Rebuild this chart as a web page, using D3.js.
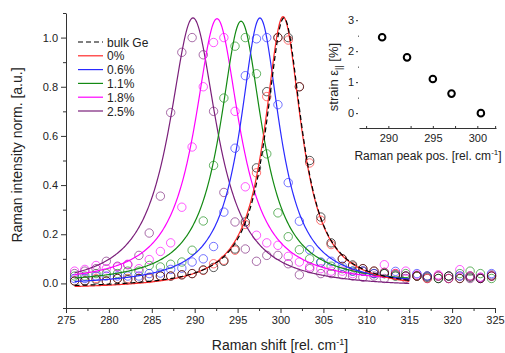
<!DOCTYPE html>
<html>
<head>
<meta charset="utf-8">
<script src="https://cdn.jsdelivr.net/npm/d3@7"></script>
<style>
  body { margin: 0; background: #fff; }
  svg { font-family: "Liberation Sans", Arial, sans-serif; }
  .axis path, .axis line { stroke: #333; }
  .axis text { fill: #222; font-size: 11px; }
</style>
</head>
<body>
<svg id="chart" width="505" height="353"></svg>
<script>
// sample positions of the measured spectra (rel. cm-1)
const shift = [276.0, 277.2, 278.5, 279.7, 281.0, 282.2, 283.5, 284.7, 286.0, 287.2,
  288.5, 289.7, 291.0, 292.2, 293.4, 294.7, 295.9, 297.2, 298.4, 299.7,
  300.9, 302.2, 303.4, 304.7, 305.9, 307.2, 308.4, 309.6, 310.9, 312.1,
  313.4, 314.6, 315.9, 317.1, 318.4, 319.6, 320.9, 322.1, 323.3, 324.6];

const seriesNames = ['bulk Ge', '0%', '0.6%', '1.1%', '1.8%', '2.5%'];
const seriesColors = ['#000000', '#ff2a2a', '#2a2aff', '#138a13', '#ff00ff', '#7a1f7a'];

// measured normalized intensities
const bulkGe = [0.01, 0.01, 0.015, 0.01, 0.02, 0.015, 0.02, 0.025, 0.03, 0.03,
  0.035, 0.04, 0.055, 0.065, 0.09, 0.14, 0.25, 0.47, 0.78, 1.0,
  1.0, 0.80, 0.50, 0.27, 0.165, 0.10, 0.075, 0.06, 0.05, 0.04,
  0.035, 0.03, 0.03, 0.025, 0.02, 0.03, 0.02, 0.025, 0.02, 0.03];
const strain0 = [0.01, 0.01, 0.02, 0.01, 0.02, 0.02, 0.02, 0.02, 0.03, 0.03,
  0.035, 0.04, 0.053, 0.08, 0.094, 0.135, 0.24, 0.45, 0.76, 1.0,
  0.99, 0.80, 0.49, 0.257, 0.158, 0.10, 0.07, 0.06, 0.05, 0.045,
  0.04, 0.03, 0.03, 0.02, 0.03, 0.02, 0.02, 0.03, 0.02, 0.03];
const strain06 = [0.02, 0.02, 0.03, 0.03, 0.03, 0.03, 0.03, 0.04, 0.042, 0.057,
  0.062, 0.087, 0.10, 0.15, 0.29, 0.55, 0.845, 0.995, 1.0, 0.727,
  0.41, 0.253, 0.137, 0.087, 0.09, 0.07, 0.05, 0.05, 0.04, 0.045,
  0.049, 0.03, 0.04, 0.03, 0.03, 0.02, 0.03, 0.03, 0.02, 0.04];
const strain11 = [0.03, 0.03, 0.04, 0.04, 0.04, 0.05, 0.05, 0.073, 0.067, 0.078,
  0.087, 0.135, 0.254, 0.48, 0.754, 0.965, 1.0, 0.853, 0.527, 0.287,
  0.19, 0.137, 0.10, 0.085, 0.07, 0.06, 0.05, 0.05, 0.04, 0.04,
  0.03, 0.04, 0.03, 0.03, 0.02, 0.03, 0.04, 0.05, 0.04, 0.02];
const strain18 = [0.05, 0.057, 0.073, 0.06, 0.067, 0.078, 0.06, 0.097, 0.13, 0.165,
  0.31, 0.555, 0.80, 0.98, 1.0, 0.70, 0.393, 0.196, 0.165, 0.155,
  0.11, 0.087, 0.067, 0.06, 0.05, 0.05, 0.04, 0.05, 0.04, 0.076,
  0.04, 0.05, 0.035, 0.03, 0.035, 0.03, 0.056, 0.03, 0.025, 0.03];
const strain25 = [0.04, 0.05, 0.06, 0.09, 0.07, 0.076, 0.114, 0.205, 0.355, 0.695,
  0.94, 1.0, 0.93, 0.70, 0.37, 0.25, 0.14, 0.09, 0.114, 0.114,
  0.08, 0.035, 0.06, 0.04, 0.04, 0.035, 0.03, 0.025, 0.03, 0.02,
  0.03, 0.02, 0.03, 0.02, 0.03, 0.02, 0.03, 0.02, 0.025, 0.035];
const measured = [bulkGe, strain0, strain06, strain11, strain18, strain25];

// Lorentzian fit parameters: centre, half width, amplitude, offset
const fitCentre = [300.4, 300.3, 297.6, 295.4, 292.6, 289.8];
const fitWidth = [2.55, 2.6, 2.8, 3.0, 3.2, 3.4];
const fitAmp = [1.10, 1.11, 1.09, 1.07, 1.08, 1.10];
const fitOffset = [-0.02, -0.025, -0.01, -0.003, -0.003, -0.02];
const fitRange = [276, 315];

// inset: peak position vs strain
const peakPos = [289.3, 292.1, 295.0, 297.1, 300.4];
const strainVal = [2.45, 1.8, 1.1, 0.63, 0.0];

const svg = d3.select('#chart');

const x = d3.scaleLinear().domain([275, 325]).range([66, 495]);
const y = d3.scaleLinear().domain([-0.1, 1.1]).range([308, 13]);

// axes
svg.append('g').attr('class', 'axis').attr('transform', 'translate(0,308)')
  .call(d3.axisBottom(x).tickValues(d3.range(275, 326, 5)).tickSize(5).tickPadding(3).tickSizeOuter(0));
svg.append('g').attr('class', 'axis').attr('transform', 'translate(0,308)')
  .call(d3.axisBottom(x).tickValues(d3.range(277.5, 325, 5)).tickSize(3).tickFormat('').tickSizeOuter(0))
  .select('.domain').remove();

svg.append('g').attr('class', 'axis').attr('transform', 'translate(66,0)')
  .call(d3.axisLeft(y).tickValues(d3.range(0, 1.01, 0.2)).tickSize(5).tickPadding(3)
    .tickFormat(d3.format('.1f')).tickSizeOuter(0));
svg.append('g').attr('class', 'axis').attr('transform', 'translate(66,0)')
  .call(d3.axisLeft(y).tickValues([-0.1, 0.1, 0.3, 0.5, 0.7, 0.9, 1.1]).tickSize(3).tickFormat('').tickSizeOuter(0))
  .select('.domain').remove();

svg.append('text').attr('x', 280).attr('y', 350).attr('text-anchor', 'middle')
  .attr('font-size', 14).attr('fill', '#222')
  .html('Raman shift [rel. cm<tspan dy="-5" font-size="9">-1</tspan><tspan dy="5">]</tspan>');
svg.append('text').attr('transform', 'translate(22,155) rotate(-90)').attr('text-anchor', 'middle')
  .attr('font-size', 14).attr('fill', '#222').text('Raman intensity norm. [a.u.]');

// measured points
const order = [5, 4, 3, 2, 1, 0];
order.forEach(s => {
  svg.append('g').selectAll('circle').data(measured[s]).join('circle')
    .attr('cx', (d, i) => x(shift[i]))
    .attr('cy', d => y(d))
    .attr('r', 4.2)
    .attr('fill', 'none')
    .attr('stroke', seriesColors[s])
    .attr('stroke-opacity', 0.65)
    .attr('stroke-width', 1);
});

// fitted curves
const fitX = d3.range(fitRange[0], fitRange[1] + 0.001, 0.1);
const line = d3.line().x(d => x(d[0])).y(d => y(d[1]));
order.forEach(s => {
  const pts = fitX.map(v => [v, fitOffset[s] + fitAmp[s] / (1 + Math.pow((v - fitCentre[s]) / fitWidth[s], 2))]);
  svg.append('path').datum(pts).attr('d', line)
    .attr('fill', 'none')
    .attr('stroke', seriesColors[s])
    .attr('stroke-width', 1.2)
    .attr('stroke-dasharray', s === 0 ? '5,3' : null);
});

// legend
const legend = svg.append('g').attr('transform', 'translate(78,42)');
seriesNames.forEach((name, i) => {
  const g = legend.append('g').attr('transform', `translate(0,${i * 13.8})`);
  g.append('line').attr('x1', 0).attr('x2', 25).attr('y1', 0).attr('y2', 0)
    .attr('stroke', seriesColors[i]).attr('stroke-width', 1.2)
    .attr('stroke-dasharray', i === 0 ? '5,3' : null);
  g.append('text').attr('x', 29).attr('y', 4.5).attr('font-size', 12).attr('fill', '#222').text(name);
});

// inset
const ix = d3.scaleLinear().domain([286.7, 302.1]).range([359, 496]);
const iy = d3.scaleLinear().domain([-0.48, 3.2]).range([128, 14]);

svg.append('g').attr('class', 'axis').attr('transform', 'translate(0,128)')
  .call(d3.axisBottom(ix).tickValues([290, 295, 300]).tickSize(-2).tickPadding(6).tickSizeOuter(0));
svg.append('g').attr('class', 'axis').attr('transform', 'translate(0,128)')
  .call(d3.axisBottom(ix).tickValues([287.5, 292.5, 297.5, 302.0]).tickSize(-2).tickFormat('').tickSizeOuter(0))
  .select('.domain').remove();

const iyAxis = svg.append('g').attr('class', 'axis').attr('transform', 'translate(358,0)')
  .call(d3.axisLeft(iy).tickValues([0, 1, 2, 3]).tickSize(2).tickPadding(2)
    .tickFormat(d3.format('d')).tickSizeOuter(0));
iyAxis.select('.domain').remove();
svg.append('g').attr('class', 'axis').attr('transform', 'translate(359,0)')
  .call(d3.axisLeft(iy).tickValues([0.5, 1.5, 2.5]).tickSize(1).tickFormat('').tickSizeOuter(0))
  .select('.domain').remove();

svg.append('g').selectAll('circle').data(strainVal).join('circle')
  .attr('cx', (d, i) => ix(peakPos[i]))
  .attr('cy', d => iy(d))
  .attr('r', 3.3)
  .attr('fill', 'none')
  .attr('stroke', '#000')
  .attr('stroke-width', 2);

svg.append('text').attr('x', 428).attr('y', 160).attr('text-anchor', 'middle')
  .attr('font-size', 12).attr('fill', '#222')
  .html('Raman peak pos. [rel. cm<tspan dy="-5" font-size="8">-1</tspan><tspan dy="5">]</tspan>');
svg.append('text').attr('transform', 'translate(338,77) rotate(-90)').attr('text-anchor', 'middle')
  .attr('font-size', 13).attr('fill', '#222')
  .html('strain ε<tspan dy="4" font-size="9">||</tspan><tspan dy="-4"> [%]</tspan>');
</script>
</body>
</html>
